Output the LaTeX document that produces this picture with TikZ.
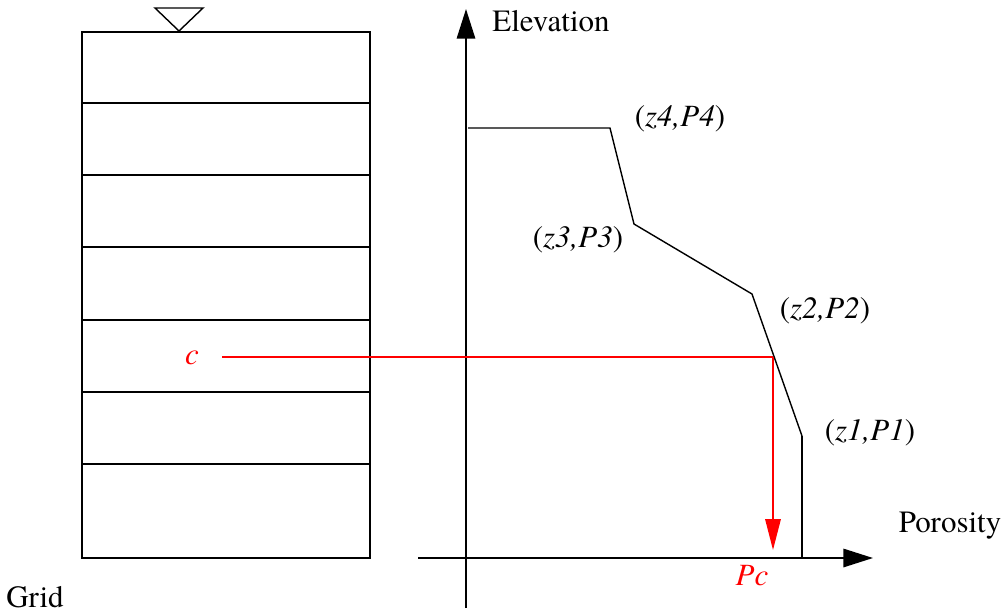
\documentclass[tikz,border=0pt]{standalone}
\usepackage{fontspec}
\setmainfont{TeX Gyre Termes}
\usetikzlibrary{arrows.meta}
\begin{document}
\begin{tikzpicture}[x=0.025cm, y=-0.025cm,
    every node/.style={font=\rmfamily\fontsize{22}{26}\selectfont, inner sep=0pt},
    axis/.style={line width=1.4pt, -{Triangle[length=21pt, width=13pt]}},
    redline/.style={red, line width=1.2pt}]
    \useasboundingbox (0,0) rectangle (1008,613);
    % Grid
    \draw[line width=1pt] (82,32) rectangle (370,558);
    \foreach \y in {103,175,247,320,392,464}
        \draw[line width=1pt] (82,\y) -- (370,\y);
    \draw[line width=1pt] (155,8) -- (203,8) -- (179,31) -- cycle;
    \node (grid) at (35,597) {Grid};
    % Axes
    \coordinate (yb) at (466,608);
    \coordinate (yt) at (466,9);
    \coordinate (xl) at (418,558);
    \coordinate (xr) at (873,558);
    \draw[axis] (yb) -- (yt);
    \draw[axis] (xl) -- (xr);
    \node (elev) at (551,21) {Elevation};
    \node (poro) at (950,526) {Porosity};
    % Porosity profile
    \coordinate (p5) at (468,128);
    \coordinate (p4) at (610,128);
    \coordinate (p3) at (634,224);
    \coordinate (p2) at (752,294);
    \coordinate (p1) at (802,436);
    \coordinate (p0) at (802,558);
    \draw[line width=1pt] (p5) -- (p4) -- (p3) -- (p2) -- (p1);
    \draw[line width=1.4pt] (p1) -- (p0);
    \node (l4) at (680,119) {(\textit{z4,P4})};
    \node (l3) at (578,240) {(\textit{z3,P3})};
    \node (l2) at (825,311) {(\textit{z2,P2})};
    \node (l1) at (870,433) {(\textit{z1,P1})};
    % Cell c
    \node[red] (c) at (192,358) {\textit{c}};
    \coordinate (hit) at (773,357);
    \coordinate (foot) at (773,550);
    \draw[redline] (222,357) -- (hit);
    \draw[redline, -{Triangle[length=22pt, width=11pt]}] (hit) -- (foot);
    \node[red] (pc) at (752,576) {\textit{Pc}};
\end{tikzpicture}
\end{document}
